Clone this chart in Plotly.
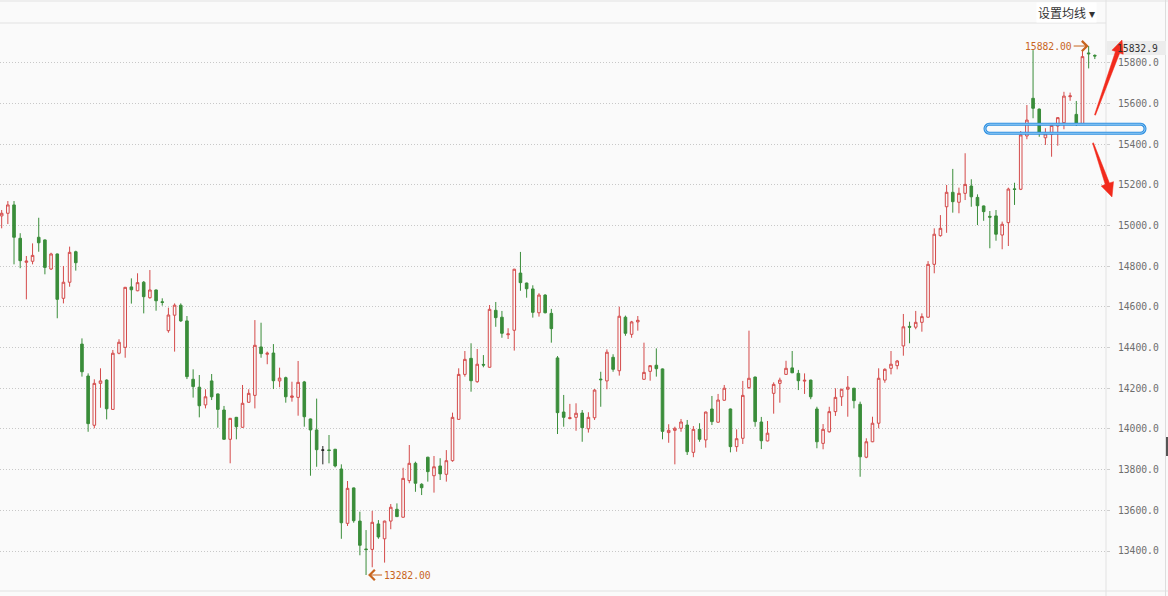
import plotly.graph_objects as go

# ---------------- data ----------------
open_ = [15047, 15060, 15101, 14937, 14819, 14824, 14942, 14929, 14786, 14860,
         14642, 14721, 14871, 14417, 14260, 14018, 14224, 14240, 14096, 14372,
         14401, 14698, 14679, 14721, 14645, 14683, 14625, 14483, 14559, 14608,
         14531, 14244, 14205, 14118, 14236, 14172, 14093, 13949, 14057, 14008,
         14131, 14165, 14403, 14367, 14373, 14236, 14252, 14155, 14155, 14231,
         14049, 13995, 13896, 13897, 13900, 13803, 13536, 13710, 13547, 13410,
         13408, 13533, 13460, 13547, 13605, 13566, 13746, 13831, 13728, 13861,
         13770, 13818, 13777, 13844, 14047, 14268, 14347, 14232, 14317, 14303,
         14583, 14549, 14463, 14485, 14766, 14717, 14688, 14571, 14658, 14568,
         14349, 14083, 14051, 14057, 14078, 14001, 14055, 14245, 14236, 14352,
         14286, 14549, 14465, 14526, 14244, 14283, 14313, 14295, 13982, 13993,
         14003, 14019, 13885, 13998, 13946, 14098, 14033, 14141, 14098, 13913,
         13954, 14203, 14255, 14034, 13941, 14175, 14224, 14268, 14300, 14273,
         14235, 14240, 14098, 13929, 13986, 14085, 14158, 14195, 14200, 14121,
         13861, 13937, 14028, 14240, 14298, 14311, 14408, 14504, 14500, 14524,
         14549, 14809, 14950, 15092, 15163, 15114, 15158, 15194, 15138, 15096,
         15045, 15047, 14953, 15014, 15180, 15178, 15440, 15625, 15572, 15431,
         15448, 15489, 15505, 15633, 15546, 15497, 15848, 15836]
high = [15076, 15120, 15120, 14962, 14850, 14912, 15038, 14931, 14866, 14862,
        14801, 14896, 14876, 14445, 14273, 14244, 14298, 14244, 14388, 14441,
        14698, 14740, 14765, 14727, 14781, 14685, 14642, 14596, 14617, 14617,
        14555, 14293, 14265, 14195, 14270, 14174, 14113, 14054, 14059, 14216,
        14195, 14535, 14522, 14380, 14417, 14301, 14257, 14232, 14334, 14236,
        14051, 14149, 13916, 13970, 13902, 13826, 13744, 13712, 13593, 13503,
        13597, 13552, 13549, 13631, 13634, 13809, 13921, 13839, 13733, 13863,
        13867, 13856, 13896, 14080, 14298, 14383, 14421, 14393, 14363, 14609,
        14624, 14580, 14495, 14787, 14870, 14719, 14706, 14667, 14662, 14590,
        14358, 14167, 14123, 14126, 14093, 14082, 14196, 14281, 14391, 14367,
        14601, 14557, 14531, 14555, 14424, 14313, 14396, 14297, 14023, 14011,
        14049, 14044, 14014, 14028, 14085, 14162, 14172, 14216, 14100, 13998,
        14236, 14483, 14257, 14059, 14039, 14229, 14252, 14335, 14383, 14290,
        14273, 14242, 14109, 14024, 14109, 14200, 14197, 14260, 14202, 14134,
        13954, 14060, 14298, 14298, 14383, 14339, 14565, 14527, 14580, 14568,
        14825, 14986, 15051, 15199, 15278, 15186, 15355, 15227, 15153, 15098,
        15071, 15076, 15019, 15186, 15210, 15464, 15592, 15862, 15575, 15478,
        15502, 15532, 15657, 15653, 15612, 15862, 15882, 15841]
low = [14986, 15007, 14809, 14790, 14637, 14809, 14871, 14760, 14781, 14544,
       14617, 14699, 14778, 14257, 13986, 14003, 14104, 14047, 14094, 14367,
       14350, 14616, 14677, 14568, 14640, 14581, 14606, 14473, 14380, 14526,
       14245, 14154, 14057, 14101, 14142, 14006, 13947, 13831, 13949, 14006,
       14129, 14101, 14350, 14318, 14196, 14205, 14129, 14134, 14065, 14011,
       13770, 13814, 13826, 13831, 13811, 13460, 13523, 13539, 13379, 13282,
       13320, 13460, 13343, 13507, 13567, 13564, 13733, 13691, 13675, 13741,
       13687, 13749, 13741, 13839, 14045, 14257, 14183, 14227, 14303, 14301,
       14502, 14448, 14442, 14385, 14679, 14645, 14547, 14552, 14568, 14424,
       13975, 14011, 14047, 13991, 13937, 13982, 14044, 14109, 14195, 14281,
       14262, 14458, 14448, 14483, 14242, 14237, 14257, 13949, 13932, 13826,
       13986, 13872, 13861, 13937, 13908, 14019, 14031, 14139, 13885, 13888,
       13926, 14196, 14011, 13901, 13939, 14075, 14129, 14266, 14274, 14191,
       14172, 14146, 13905, 13900, 13982, 14064, 14113, 14060, 14101, 13765,
       13856, 13935, 14003, 14227, 14268, 14293, 14360, 14421, 14490, 14478,
       14547, 14765, 14945, 14964, 15063, 15060, 15125, 15092, 15002, 15023,
       14888, 14925, 14883, 14899, 15101, 15174, 15424, 15527, 15436, 15396,
       15338, 15392, 15473, 15613, 15489, 15494, 15772, 15818]
close = [15060, 15101, 14942, 14827, 14825, 14853, 14915, 14794, 14860, 14637,
         14721, 14868, 14817, 14281, 14026, 14224, 14236, 14099, 14372, 14426,
         14696, 14684, 14719, 14650, 14683, 14630, 14622, 14560, 14608, 14531,
         14257, 14208, 14114, 14158, 14158, 14096, 13949, 14052, 14011, 14126,
         14175, 14411, 14370, 14372, 14237, 14250, 14158, 14162, 14229, 14060,
         13995, 13898, 13896, 13894, 13818, 13539, 13708, 13549, 13428, 13407,
         13541, 13469, 13547, 13615, 13569, 13757, 13831, 13733, 13711, 13790,
         13814, 13779, 13844, 14057, 14268, 14342, 14237, 14318, 14314, 14588,
         14547, 14470, 14467, 14785, 14719, 14689, 14573, 14658, 14571, 14493,
         14080, 14057, 14055, 14077, 14006, 14057, 14191, 14242, 14377, 14293,
         14554, 14470, 14526, 14534, 14278, 14311, 14296, 13988, 13993, 14003,
         14034, 13888, 13998, 13949, 14083, 14036, 14142, 14200, 13913, 13952,
         14165, 14249, 14036, 13942, 13979, 14219, 14240, 14298, 14276, 14237,
         14239, 14158, 13937, 13998, 14085, 14155, 14195, 14205, 14139, 13863,
         13937, 14028, 14249, 14293, 14318, 14334, 14502, 14500, 14524, 14552,
         14809, 14957, 14986, 15163, 15117, 15158, 15202, 15141, 15097, 15068,
         15041, 14957, 15006, 15179, 15177, 15445, 15518, 15576, 15453, 15450,
         15492, 15530, 15636, 15637, 15502, 15830, 15844, 15832.9]
flat_idx = [52]            # candle that closed unchanged (drawn in black)
tick_vals = [13400, 13600, 13800, 14000, 14200, 14400, 14600, 14800,
             15000, 15200, 15400, 15600, 15800]
tick_text = ["%.1f" % v for v in tick_vals]
high_label = "15882.00"
low_label = "13282.00"
last_label = "15832.9"
button_label = "设置均线 ▾"

# ---------------- styling ----------------
W, H = 1168, 596
PL, PR, PT, PB = 0, 1106, 23, 591
BG = "#fafafa"
RED = "#d44a4a"
GREEN = "#3a8d3a"
ORANGE = "#c8651e"
MONO = "DejaVu Sans Mono"

n = len(close)
xs = list(range(n))
main_idx = [i for i in xs if i not in flat_idx]


def pick(arr, idx):
    return [arr[i] for i in idx]


def to_paper(xp, yp):
    return ((xp - PL) / (PR - PL), (PB - yp) / (PB - PT))


def path_px(points, closed=True):
    s = ""
    for k, (a, b) in enumerate(points):
        u, v = to_paper(a, b)
        s += ("M" if k == 0 else "L") + "%.5f,%.5f" % (u, v)
    return s + ("Z" if closed else "")


def arrow_poly(x0, y0, x1, y1, w0, w1, hl, hw):
    import math
    dx, dy = x1 - x0, y1 - y0
    L = math.hypot(dx, dy)
    ux, uy = dx / L, dy / L
    nx, ny = -uy, ux
    bx, by = x1 - ux * hl, y1 - uy * hl
    return [
        (x0 + nx * w0 / 2, y0 + ny * w0 / 2),
        (bx + nx * w1 / 2, by + ny * w1 / 2),
        (bx + nx * hw / 2, by + ny * hw / 2),
        (x1, y1),
        (bx - nx * hw / 2, by - ny * hw / 2),
        (bx - nx * w1 / 2, by - ny * w1 / 2),
        (x0 - nx * w0 / 2, y0 - ny * w0 / 2),
    ]


def round_rect(x0, y0, x1, y1, r, steps=6):
    import math
    pts = []
    corners = [(x1 - r, y0 + r, -90), (x1 - r, y1 - r, 0),
               (x0 + r, y1 - r, 90), (x0 + r, y0 + r, 180)]
    for cx, cy, a0 in corners:
        for s in range(steps + 1):
            a = math.radians(a0 + 90 * s / steps)
            pts.append((cx + r * math.cos(a), cy + r * math.sin(a)))
    return pts


fig = go.Figure()
fig.add_trace(go.Candlestick(
    x=main_idx, open=pick(open_, main_idx), high=pick(high, main_idx),
    low=pick(low, main_idx), close=pick(close, main_idx),
    increasing=dict(line=dict(color=RED, width=1), fillcolor=BG),
    decreasing=dict(line=dict(color=GREEN, width=1), fillcolor=GREEN),
    whiskerwidth=0, showlegend=False, hoverinfo="skip"))
fig.add_trace(go.Candlestick(
    x=flat_idx, open=pick(open_, flat_idx), high=pick(high, flat_idx),
    low=pick(low, flat_idx), close=pick(close, flat_idx),
    increasing=dict(line=dict(color="#222222", width=1), fillcolor="#222222"),
    decreasing=dict(line=dict(color="#222222", width=1), fillcolor="#222222"),
    whiskerwidth=0, showlegend=False, hoverinfo="skip"))

# x range so candle j sits at 1.67 + 6.176 * j pixels
step = 6.176
x0r = -1.67 / step
x1r = x0r + (PR - PL) / step

shapes = []
line_col = "#e2e2e2"
shapes.append(dict(type="line", xref="paper", yref="paper",
                   x0=to_paper(0, 0)[0], x1=to_paper(W, 0)[0],
                   y0=to_paper(0, 1)[1], y1=to_paper(0, 1)[1],
                   line=dict(color=line_col, width=1)))
shapes.append(dict(type="line", xref="paper", yref="paper",
                   x0=0, x1=1, y0=1, y1=1, line=dict(color=line_col, width=1)))
shapes.append(dict(type="line", xref="paper", yref="paper",
                   x0=to_paper(0, 0)[0], x1=to_paper(W, 0)[0], y0=0, y1=0,
                   line=dict(color=line_col, width=1)))
shapes.append(dict(type="line", xref="paper", yref="paper",
                   x0=1, x1=1, y0=to_paper(0, H)[1], y1=to_paper(0, 0)[1],
                   line=dict(color=line_col, width=1)))
shapes.append(dict(type="line", xref="paper", yref="paper",
                   x0=to_paper(1165.5, 0)[0], x1=to_paper(1165.5, 0)[0],
                   y0=to_paper(0, H)[1], y1=to_paper(0, 0)[1],
                   line=dict(color="#dddddd", width=1)))
shapes.append(dict(type="path", xref="paper", yref="paper",
                   path=path_px([(1166, 437), (1168, 437), (1168, 456), (1166, 456)]),
                   fillcolor="#555555", line=dict(width=0)))
# blue highlight box
rr = round_rect(985, 124.2, 1145, 133.2, 4.5)
shapes.append(dict(type="path", xref="paper", yref="paper", path=path_px(rr),
                   line=dict(color="#2a8de0", width=3), fillcolor="rgba(0,0,0,0)"))
shapes.append(dict(type="path", xref="paper", yref="paper", path=path_px(rr),
                   line=dict(color="#9fd2f7", width=1), fillcolor="rgba(0,0,0,0)"))
# grey box behind the last-price label
shapes.append(dict(type="path", xref="paper", yref="paper",
                   path=path_px([(1107, 41), (1166, 41), (1166, 55), (1107, 55)]),
                   fillcolor="#ececec", line=dict(width=0), layer="above"))
# red hand-drawn arrows
for poly in (arrow_poly(1095, 115, 1122, 40, 1.0, 4.5, 13, 12),
             arrow_poly(1093, 143, 1112, 197, 1.0, 4.5, 14, 13)):
    shapes.append(dict(type="path", xref="paper", yref="paper", path=path_px(poly),
                       fillcolor="#f22a1c", line=dict(color="#f22a1c", width=0.5),
                       layer="above"))

annotations = [
    dict(x=n - 2, y=max(high), xref="x", yref="y", text=high_label,
         showarrow=True, ax=-40, ay=0, arrowhead=4, arrowsize=2, arrowwidth=1,
         arrowcolor=ORANGE, standoff=0,
         font=dict(family=MONO, size=9.7, color=ORANGE)),
    dict(x=low.index(min(low)), y=min(low), xref="x", yref="y", text=low_label,
         showarrow=True, ax=41, ay=0, arrowhead=4, arrowsize=2, arrowwidth=1,
         arrowcolor=ORANGE, standoff=2,
         font=dict(family=MONO, size=9.7, color=ORANGE)),
    dict(x=to_paper(1137, 0)[0], y=to_paper(0, 48)[1], xref="paper", yref="paper",
         xanchor="center", yanchor="middle",
         text=last_label, showarrow=False,
         font=dict(family=MONO, size=9.7, color="#333333")),
    dict(x=to_paper(1097, 0)[0], y=to_paper(0, 13)[1], xref="paper", yref="paper",
         text=button_label, showarrow=False, xanchor="right", yanchor="middle",
         bgcolor="#ffffff",
         font=dict(family="Noto Sans CJK SC", size=12, color="#333333")),
]

fig.update_layout(
    width=W, height=H,
    margin=dict(l=PL, r=W - PR, t=PT, b=H - PB, pad=0),
    paper_bgcolor=BG, plot_bgcolor=BG,
    boxgap=0.4, hovermode=False, showlegend=False,
    shapes=shapes, annotations=annotations,
    xaxis=dict(range=[x0r, x1r], showgrid=False, zeroline=False, showline=False,
               showticklabels=False, ticks="", rangeslider=dict(visible=False),
               fixedrange=True),
    yaxis=dict(range=[13203.4, 15995.2], side="right", tickvals=tick_vals,
               ticktext=tick_text, showgrid=True, gridcolor="#c8c8c8",
               griddash="1px,2px", gridwidth=1, zeroline=False, showline=False,
               ticks="outside", ticklen=3, tickcolor="#d0d0d0",
               ticklabelstandoff=6,
               tickfont=dict(family=MONO, size=9.7, color="#6e6e6e"),
               fixedrange=True),
)

fig.write_html(
    "out.html",
    config={"displayModeBar": False, "staticPlot": True},
    post_script="document.body.style.margin='0px';"
                "document.body.style.overflow='hidden';"
                "document.body.style.background='#fafafa';",
)
